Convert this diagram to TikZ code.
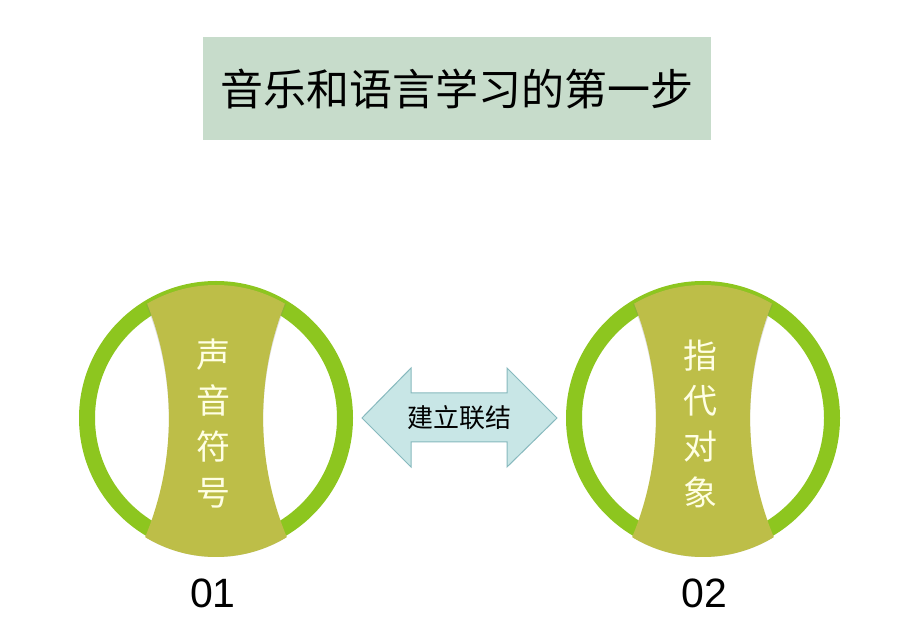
\documentclass[tikz,border=0pt]{standalone}
\usepackage{fontspec}
\setmainfont{Liberation Sans}
\newfontfamily\cjk{Noto Sans CJK SC}
\definecolor{ringgreen}{RGB}{141,198,31}
\definecolor{bandolive}{RGB}{189,190,72}
\definecolor{bandtext}{RGB}{255,255,228}
\definecolor{titlefill}{RGB}{199,220,203}
\definecolor{arrowfill}{RGB}{200,230,230}
\definecolor{arrowdraw}{RGB}{135,185,190}
\begin{document}
\begin{tikzpicture}[x=1pt,y=1pt,
  ringstyle/.style={draw=ringgreen,line width=16pt},
  bandstyle/.style={fill=bandolive},
  bandlabel/.style={font=\cjk\fontsize{34}{45.7}\selectfont,text=bandtext,align=center,inner sep=0pt},
  numlabel/.style={font=\fontsize{41}{46}\selectfont,text=black,inner sep=0pt},
  titlebox/.style={fill=titlefill,minimum width=508pt,minimum height=103pt,inner sep=0pt,font=\cjk\fontsize{43}{50}\selectfont},
  arrowlabel/.style={font=\cjk\fontsize{26}{30}\selectfont,inner sep=0pt}]
\useasboundingbox (0,0) rectangle (924,643);
\fill[white] (0,0) rectangle (924,643);
% title
\node[titlebox] (title) at (457,554.5) {音乐和语言学习的第一步};
% circles
\foreach \cx/\nm in {216/left,703/right}{
  \coordinate (\nm c) at (\cx,225);
  \draw[ringstyle] (\nm c) circle (129);
  \begin{scope}[shift={(\nm c)}]
    \clip (0,-3) circle (136);
    \fill[gray,opacity=0.25] (-83,142) -- (83,142) arc[start angle=152.2,end angle=207.8,radius=311] -- (-83,-148) arc[start angle=-27.8,end angle=27.8,radius=311] -- cycle;
    \fill[bandstyle] (-83,145) -- (83,145) arc[start angle=152.2,end angle=207.8,radius=311] -- (-83,-145) arc[start angle=-27.8,end angle=27.8,radius=311] -- cycle;
  \end{scope}
}
\node[bandlabel] (lefttext) at (213,219.5) {声\\音\\符\\号};
\node[bandlabel] (righttext) at (700,219.5) {指\\代\\对\\象};
% double arrow
\draw[fill=arrowfill,draw=arrowdraw,line width=1pt,line join=miter]
  (362,225) -- (411,275) -- (411,250) -- (507,250) -- (507,275) -- (557,225)
  -- (507,176) -- (507,201) -- (411,201) -- (411,176) -- cycle;
\node[arrowlabel] (link) at (459,225) {建立联结};
% numbers
\node[numlabel] (n1) at (213,50) {01};
\node[numlabel] (n2) at (704,50) {02};
\end{tikzpicture}
\end{document}
